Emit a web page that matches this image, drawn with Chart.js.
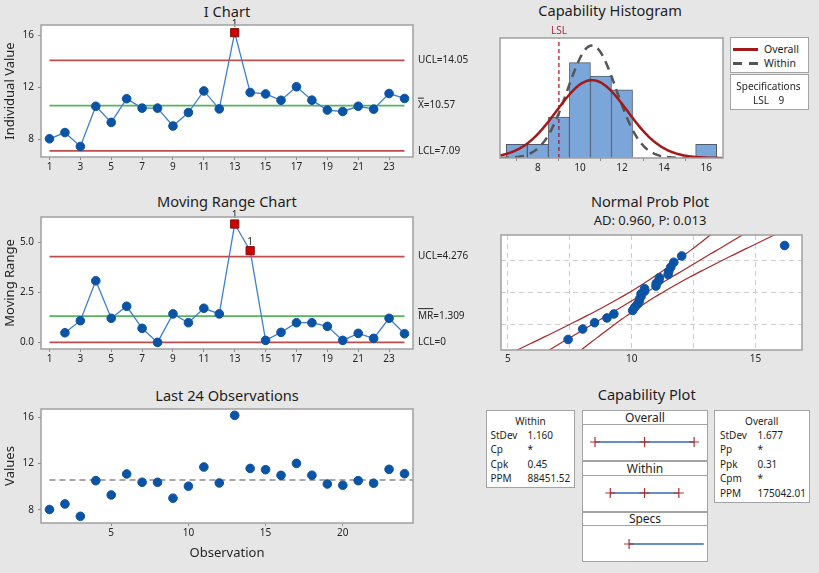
<!DOCTYPE html>
<html>
<head>
<meta charset="utf-8">
<title>Process Capability Sixpack</title>
<script src="https://cdn.jsdelivr.net/npm/chart.js@4.4.1/dist/chart.umd.min.js"></script>
<style>
  html, body { margin: 0; padding: 0; }
  body { width: 819px; height: 573px; background: #e6e6e6; position: relative; overflow: hidden;
         font-family: "Noto Sans", "DejaVu Sans", sans-serif; color: #1e1e1e; }
  canvas { position: absolute; }
  .t { position: absolute; white-space: nowrap; line-height: 1; transform: translate(-50%, -50%); }
  .tl { position: absolute; white-space: nowrap; line-height: 1; transform: translateY(-50%); }
  .ttl { font-size: 14.6px; }
  .box { position: absolute; background: #fff; border: 1.5px solid #a3a3a3; box-sizing: border-box; }
</style>
</head>
<body>
<script>
// ---- process data --------------------------------------------------------
const observations = [8.02, 8.50, 7.43, 10.52, 9.28, 11.10, 10.38, 10.38, 9.00, 10.04, 11.70, 10.32,
                      16.18, 11.58, 11.47, 10.98, 12.02, 10.99, 10.23, 10.12, 10.52, 10.30, 11.50, 11.12];
const movingRanges = [null, 0.48, 1.08, 3.07, 1.20, 1.80, 0.70, 0.00, 1.42, 0.98, 1.70, 1.42,
                      5.90, 4.57, 0.10, 0.50, 0.98, 0.98, 0.80, 0.10, 0.45, 0.20, 1.20, 0.43];

// control limits
const processMean = 10.57;
const iUCL = 14.05, iLCL = 7.09;
const mrMean = 1.309, mrUCL = 4.276, mrLCL = 0;

// capability figures
const lsl = 9;
const stdevWithin = 1.160, stdevOverall = 1.677;
const withinStats  = [['StDev', '1.160'], ['Cp', '*'], ['Cpk', '0.45'], ['PPM', '88451.52']];
const overallStats = [['StDev', '1.677'], ['Pp', '*'], ['Ppk', '0.31'], ['Cpm', '*'], ['PPM', '175042.01']];
const adText = 'AD: 0.960, P: 0.013';

// histogram bins (width 1)
const histBinCenters = [7, 8, 9, 10, 11, 12, 13, 14, 15, 16];
const histCounts     = [1, 1, 3, 7, 6, 5, 0, 0, 0, 1];

// ticks
const controlXTicks = [1, 3, 5, 7, 9, 11, 13, 15, 17, 19, 21, 23];
const iYTicks = [8, 12, 16];
const mrYTicks = [0, 2.5, 5];
const obsXTicks = [5, 10, 15, 20];
const obsYTicks = [8, 12, 16];
const histXTicks = [8, 10, 12, 14, 16];
const probXGrid = [5, 7.5, 10, 12.5, 15];
const probXLabels = [5, 10, 15];
const probGridPercents = [10, 50, 90];
const probRangePercents = [1, 99];

// ---- shared look -----------------------------------------------------------
const FONT = '"Noto Sans", "DejaVu Sans", sans-serif';
Chart.defaults.font.family = FONT;
Chart.defaults.font.size = 10;
Chart.defaults.color = '#262626';
Chart.defaults.animation = false;
Chart.defaults.responsive = false;
Chart.defaults.events = [];
Chart.defaults.plugins.legend.display = false;
Chart.defaults.plugins.tooltip.enabled = false;

const BLUE = '#0b53a5', LINK = '#3f7fcf', RED_LIMIT = '#c04d4d', GREEN = '#55b45c', FLAG = '#d40000';
const xMin = 0.45, xMax = 24.55;

function makeCanvas(left, top, w, h) {
  const c = document.createElement('canvas');
  c.width = w; c.height = h;
  Object.assign(c.style, { left: left + 'px', top: top + 'px', width: w + 'px', height: h + 'px' });
  document.body.appendChild(c);
  return c;
}
function addText(text, x, y, cls, style) {
  const d = document.createElement('div');
  d.className = cls; d.textContent = text;
  Object.assign(d.style, { left: x + 'px', top: y + 'px' }, style || {});
  document.body.appendChild(d);
  return d;
}
function addBox(x, y, w, h) {
  const d = document.createElement('div');
  d.className = 'box';
  Object.assign(d.style, { left: x + 'px', top: y + 'px', width: w + 'px', height: h + 'px' });
  document.body.appendChild(d);
  return d;
}

const fixWidth = w => s => { s.width = w; s.paddingLeft = s.paddingRight = s.paddingTop = s.paddingBottom = 0; };
const fixHeight = h => s => { s.height = h; s.paddingLeft = s.paddingRight = s.paddingTop = s.paddingBottom = 0; };
const setTicks = values => s => { s.ticks = values.map(v => ({ value: v })); };

// white plot area with a grey frame
const framePlugin = {
  id: 'frame',
  beforeDraw(chart) {
    const a = chart.chartArea, ctx = chart.ctx;
    ctx.save(); ctx.fillStyle = '#fff';
    ctx.fillRect(a.left, a.top, a.right - a.left, a.bottom - a.top); ctx.restore();
  },
  afterDraw(chart) {
    const a = chart.chartArea, ctx = chart.ctx;
    ctx.save(); ctx.strokeStyle = '#a0a0a0'; ctx.lineWidth = 1.5;
    ctx.strokeRect(a.left, a.top, a.right - a.left, a.bottom - a.top); ctx.restore();
  }
};

// labels on the right of the control limit lines
function limitLabels(items) {
  return {
    id: 'limitLabels',
    afterDraw(chart) {
      const ctx = chart.ctx, ys = chart.scales.y, a = chart.chartArea;
      ctx.save();
      ctx.font = '10px ' + FONT; ctx.fillStyle = '#262626'; ctx.strokeStyle = '#262626';
      ctx.textBaseline = 'middle'; ctx.textAlign = 'left';
      items.forEach(it => {
        const py = ys.getPixelForValue(it.value), px = a.right + 5;
        ctx.fillText(it.text, px, py);
        if (it.bar) {
          const w = ctx.measureText(it.bar).width;
          ctx.lineWidth = 1; ctx.beginPath();
          ctx.moveTo(px, py - 7.5); ctx.lineTo(px + w, py - 7.5); ctx.stroke();
        }
      });
      ctx.restore();
    }
  };
}

// "1" markers above points that fail test 1
function flagLabels(flags) {
  return {
    id: 'flagLabels',
    afterDatasetsDraw(chart) {
      const ctx = chart.ctx, meta = chart.getDatasetMeta(0);
      ctx.save(); ctx.font = '10px ' + FONT; ctx.fillStyle = '#262626';
      ctx.textAlign = 'center'; ctx.textBaseline = 'middle';
      flags.forEach((f, i) => { if (f) { const el = meta.data[i]; ctx.fillText('1', el.x, el.y - 9); } });
      ctx.restore();
    }
  };
}

function controlXAxis(height, title) {
  return {
    type: 'linear', min: xMin, max: xMax,
    afterBuildTicks: setTicks(controlXTicks),
    afterFit: fixHeight(height),
    grid: { drawOnChartArea: false, drawTicks: true, tickLength: 3, color: '#8c8c8c' },
    border: { display: false },
    ticks: { padding: 1, autoSkip: false, maxRotation: 0, callback: v => String(v) },
    title: title ? { display: true, text: title, font: { size: 13 }, color: '#262626', padding: { top: 0, bottom: 12 } } : { display: false }
  };
}
function valueYAxis(min, max, ticks, title, fmt) {
  return {
    type: 'linear', min, max,
    afterBuildTicks: setTicks(ticks),
    afterFit: fixWidth(41),
    grid: { drawOnChartArea: false, drawTicks: true, tickLength: 3, color: '#8c8c8c' },
    border: { display: false },
    ticks: { padding: 4, autoSkip: false, callback: fmt || (v => String(v)) },
    title: { display: true, text: title, font: { size: 13 }, color: '#262626', padding: { top: 2, bottom: 0 } }
  };
}
function limitLine(value, color) {
  return { data: [{ x: 1, y: value }, { x: observations.length, y: value }],
           borderColor: color, borderWidth: 1.8, pointRadius: 0, order: 5 };
}
function seriesDataset(values, flags) {
  return {
    data: values.map((v, i) => ({ x: i + 1, y: v })),
    borderColor: LINK, borderWidth: 1.3, tension: 0, order: 0,
    pointStyle: flags.map(f => f ? 'rect' : 'circle'),
    pointRadius: flags.map(f => f ? 5.8 : 4.3),
    pointBackgroundColor: flags.map(f => f ? FLAG : BLUE),
    pointBorderColor: flags.map(f => f ? '#7a1010' : BLUE),
    pointBorderWidth: 1
  };
}

// ---- I chart -----------------------------------------------------------------
addText('I Chart', 227, 10.5, 't ttl');
const iFlags = observations.map(v => v > iUCL || v < iLCL);
new Chart(makeCanvas(0, 0, 470, 185), {
  type: 'line',
  data: { datasets: [
    seriesDataset(observations, iFlags),
    limitLine(iUCL, RED_LIMIT), limitLine(processMean, GREEN), limitLine(iLCL, RED_LIMIT)
  ] },
  options: {
    layout: { padding: { left: 0, right: 57, top: 25, bottom: 0 } },
    scales: { x: controlXAxis(28), y: valueYAxis(6.62, 16.77, iYTicks, 'Individual Value') }
  },
  plugins: [framePlugin,
    limitLabels([{ value: iUCL, text: 'UCL=' + iUCL.toFixed(2) },
                 { value: processMean, text: 'X=' + processMean.toFixed(2), bar: 'X' },
                 { value: iLCL, text: 'LCL=' + iLCL.toFixed(2) }]),
    flagLabels(iFlags)]
});

// ---- Moving range chart --------------------------------------------------------
addText('Moving Range Chart', 227, 200.5, 't ttl');
const mrFlags = movingRanges.map(v => v !== null && v > mrUCL);
new Chart(makeCanvas(0, 185, 470, 185), {
  type: 'line',
  data: { datasets: [
    seriesDataset(movingRanges, mrFlags),
    limitLine(mrUCL, RED_LIMIT), limitLine(mrMean, GREEN), limitLine(mrLCL, RED_LIMIT)
  ] },
  options: {
    layout: { padding: { left: 0, right: 57, top: 32, bottom: 0 } },
    scales: { x: controlXAxis(21), y: valueYAxis(-0.33, 6.25, mrYTicks, 'Moving Range', v => v.toFixed(1)) }
  },
  plugins: [framePlugin,
    limitLabels([{ value: mrUCL, text: 'UCL=' + mrUCL.toFixed(3) },
                 { value: mrMean, text: 'MR=' + mrMean.toFixed(3), bar: 'MR' },
                 { value: mrLCL, text: 'LCL=' + mrLCL }]),
    flagLabels(mrFlags)]
});

// ---- Last 24 observations --------------------------------------------------------
addText('Last ' + observations.length + ' Observations', 227, 394.7, 't ttl');
new Chart(makeCanvas(0, 380, 470, 193), {
  type: 'scatter',
  data: { datasets: [
    { data: observations.map((v, i) => ({ x: i + 1, y: v })), pointRadius: 4.3,
      pointBackgroundColor: BLUE, pointBorderColor: BLUE, order: 0 },
    { type: 'line', data: [{ x: 1, y: processMean }, { x: xMax, y: processMean }],
      borderColor: '#8a8a8a', borderWidth: 1.5, borderDash: [6, 4], pointRadius: 0, order: 1 }
  ] },
  options: {
    layout: { padding: { left: 0, right: 57, top: 29, bottom: 0 } },
    scales: {
      x: Object.assign(controlXAxis(50, 'Observation'), { afterBuildTicks: setTicks(obsXTicks) }),
      y: valueYAxis(6.85, 16.73, obsYTicks, 'Values')
    }
  },
  plugins: [framePlugin]
});

// ---- Capability histogram ------------------------------------------------------------
addText('Capability Histogram', 610, 9.5, 't ttl');
const histXMin = 6.2, histXMax = 16.8, histYMax = 8.8;
const totalCount = histCounts.reduce((s, c) => s + c, 0);
const binWidth = histBinCenters[1] - histBinCenters[0];
function normalCurve(mu, sd, x0, x1) {
  const pts = [];
  for (let x = x0; x <= x1 + 1e-9; x += 0.05) {
    pts.push({ x, y: totalCount * binWidth * Math.exp(-0.5 * ((x - mu) / sd) ** 2) / (sd * Math.sqrt(2 * Math.PI)) });
  }
  return pts;
}
const lslLabel = {
  id: 'lslLabel',
  afterDraw(chart) {
    const ctx = chart.ctx, px = chart.scales.x.getPixelForValue(lsl);
    ctx.save(); ctx.font = '10px ' + FONT; ctx.fillStyle = '#a3303f';
    ctx.textAlign = 'center'; ctx.textBaseline = 'middle';
    ctx.fillText('LSL', px, chart.chartArea.top - 7); ctx.restore();
  }
};
new Chart(makeCanvas(470, 0, 349, 185), {
  type: 'bar',
  data: { datasets: [
    { type: 'line', data: normalCurve(processMean, stdevOverall, histXMin, histXMax),
      borderColor: '#a31818', borderWidth: 2.5, pointRadius: 0, order: 0 },
    { type: 'line', data: normalCurve(processMean, stdevWithin, histXMin, processMean + 4 * stdevWithin),
      borderColor: '#555555', borderWidth: 2.5, borderDash: [9, 6], pointRadius: 0, order: 1 },
    { type: 'line', data: [{ x: lsl, y: 0 }, { x: lsl, y: histYMax }],
      borderColor: '#c4001a', borderWidth: 1.2, borderDash: [4, 3], pointRadius: 0, order: 2 },
    { type: 'bar', data: histBinCenters.map((c, i) => ({ x: c, y: histCounts[i] })),
      backgroundColor: '#7ba6da', borderColor: '#4f5a6b',
      borderWidth: histCounts.map(c => c > 0 ? 1 : 0),
      barPercentage: 1, categoryPercentage: 1, order: 3 }
  ] },
  options: {
    layout: { padding: { left: 30, right: 96, top: 38, bottom: 0 } },
    scales: {
      x: { type: 'linear', min: histXMin, max: histXMax, offset: false,
           afterBuildTicks: setTicks(histXTicks), afterFit: fixHeight(27),
           grid: { drawOnChartArea: false, tickLength: 3, color: '#8c8c8c' }, border: { display: false },
           ticks: { padding: 1, autoSkip: false, maxRotation: 0 } },
      y: { display: false, min: 0, max: histYMax }
    }
  },
  plugins: [framePlugin, lslLabel]
});
// legend + specifications
addBox(730, 37, 79, 35.5);
addBox(730, 73.5, 79, 36);
(function () {
  const l1 = document.createElement('div');
  Object.assign(l1.style, { position: 'absolute', left: '733px', top: '48px', width: '25px', height: '2.5px', background: '#a31818' });
  document.body.appendChild(l1);
  [[733, 741.5], [748.5, 757.5]].forEach(([a, b]) => {
    const d = document.createElement('div');
    Object.assign(d.style, { position: 'absolute', left: a + 'px', top: '62px', width: (b - a) + 'px', height: '2.5px', background: '#555' });
    document.body.appendChild(d);
  });
})();
addText('Overall', 764, 49, 'tl', { fontSize: '10.5px' });
addText('Within', 764, 63, 'tl', { fontSize: '10.5px' });
addText('Specifications', 768.5, 85.5, 't', { fontSize: '10px' });
addText('LSL', 753, 99.5, 'tl', { fontSize: '10px' });
addText(String(lsl), 778.5, 99.5, 'tl', { fontSize: '10px' });

// ---- Normal probability plot -----------------------------------------------------------
addText('Normal Prob Plot', 650, 200.5, 't ttl');
addText(adText, 650, 219.7, 't', { fontSize: '13px' });
function normInv(p) {
  const a = [-3.969683028665376e+01, 2.209460984245205e+02, -2.759285104469687e+02, 1.383577518672690e+02, -3.066479806614716e+01, 2.506628277459239e+00];
  const b = [-5.447609879822406e+01, 1.615858368580409e+02, -1.556989798598866e+02, 6.680131188771972e+01, -1.328068155288572e+01];
  const c = [-7.784894002430293e-03, -3.223964580411365e-01, -2.400758277161838e+00, -2.549671031491807e+00, 4.374664141464968e+00, 2.938163982698783e+00];
  const d = [7.784695709041462e-03, 3.224671290700398e-01, 2.445134137142996e+00, 3.754408661907416e+00];
  const pl = 0.02425, ph = 1 - pl;
  let q, r;
  if (p < pl) { q = Math.sqrt(-2 * Math.log(p)); return (((((c[0]*q+c[1])*q+c[2])*q+c[3])*q+c[4])*q+c[5]) / ((((d[0]*q+d[1])*q+d[2])*q+d[3])*q+1); }
  if (p <= ph) { q = p - 0.5; r = q * q; return (((((a[0]*r+a[1])*r+a[2])*r+a[3])*r+a[4])*r+a[5])*q / (((((b[0]*r+b[1])*r+b[2])*r+b[3])*r+b[4])*r+1); }
  q = Math.sqrt(-2 * Math.log(1 - p));
  return -(((((c[0]*q+c[1])*q+c[2])*q+c[3])*q+c[4])*q+c[5]) / ((((d[0]*q+d[1])*q+d[2])*q+d[3])*q+1);
}
const n = observations.length;
const sortedObs = observations.slice().sort((p, q) => p - q);
// median-rank plotting positions on a normal-score axis
const probPoints = sortedObs.map((v, i) => ({ x: v, y: normInv((i + 1 - 0.3) / (n + 0.4)) }));
const zLo = normInv(probRangePercents[0] / 100), zHi = normInv(probRangePercents[1] / 100);
const fitLine = [], loBand = [], hiBand = [];
for (let z = zLo - 0.2; z <= zHi + 0.2 + 1e-9; z += 0.05) {
  const c = processMean + z * stdevOverall;
  const h = 1.96 * stdevOverall * Math.sqrt(1 / n + z * z / (2 * n));
  fitLine.push({ x: c, y: z }); loBand.push({ x: c - h, y: z }); hiBand.push({ x: c + h, y: z });
}
const probLine = data => ({ type: 'line', data, borderColor: '#a52a2a', borderWidth: 1.2, pointRadius: 0, order: 1 });
new Chart(makeCanvas(470, 185, 349, 185), {
  type: 'scatter',
  data: { datasets: [
    { data: probPoints, pointRadius: 4.3, pointBackgroundColor: BLUE, pointBorderColor: BLUE, order: 0 },
    probLine(fitLine), probLine(loBand), probLine(hiBand)
  ] },
  options: {
    layout: { padding: { left: 31, right: 17, top: 50, bottom: 0 } },
    scales: {
      x: { type: 'linear', min: 4.72, max: 16.88,
           afterBuildTicks: setTicks(probXGrid), afterFit: fixHeight(20),
           grid: { color: '#cdcdcd', drawTicks: false }, border: { display: false, dash: [5, 4] },
           ticks: { padding: 3, autoSkip: false, maxRotation: 0,
                    callback: v => probXLabels.includes(v) ? String(v) : '' } },
      y: { type: 'linear', min: zLo, max: zHi,
           afterBuildTicks: setTicks(probGridPercents.map(p => normInv(p / 100))), afterFit: fixWidth(0),
           grid: { color: '#cdcdcd', drawTicks: false }, border: { display: false, dash: [5, 4] },
           ticks: { display: false } }
    }
  },
  plugins: [framePlugin]
});

// ---- Capability plot -----------------------------------------------------------------
addText('Capability Plot', 646.7, 394, 't ttl');
// statistics tables
addBox(486, 410, 89, 78);
addText('Within', 530.5, 420.5, 't', { fontSize: '10px' });
withinStats.forEach(([k, v], i) => {
  addText(k, 490.5, 434.5 + i * 14.5, 'tl', { fontSize: '10px' });
  addText(v, 527.5, 434.5 + i * 14.5, 'tl', { fontSize: '10px' });
});
addBox(714, 410, 95.5, 92.5);
addText('Overall', 761.7, 420.5, 't', { fontSize: '10px' });
overallStats.forEach(([k, v], i) => {
  addText(k, 720, 434.5 + i * 14.5, 'tl', { fontSize: '10px' });
  addText(v, 757.5, 434.5 + i * 14.5, 'tl', { fontSize: '10px' });
});
// interval panels
const capXMin = 4.95, capXMax = 16.28;
const capPanels = [
  { name: 'Overall', top: 410, marks: [processMean - 3 * stdevOverall, processMean, processMean + 3 * stdevOverall] },
  { name: 'Within',  top: 461, marks: [processMean - 3 * stdevWithin, processMean, processMean + 3 * stdevWithin] },
  { name: 'Specs',   top: 511.5, marks: [lsl], open: true }
];
capPanels.forEach(p => {
  addBox(582, p.top, 126, 15);
  addText(p.name, 645, p.top + 7.5, 't', { fontSize: '12px' });
  addBox(582, p.top + 13.5, 126, 37);
  const pts = p.marks.map(x => ({ x, y: 0 }));
  if (p.open) pts.push({ x: capXMax + 0.3, y: 0 });
  new Chart(makeCanvas(583, p.top + 15, 124, 34), {
    type: 'line',
    data: { datasets: [{
      data: pts, borderColor: '#2f6db5', borderWidth: 1.5,
      pointStyle: 'cross', pointRadius: pts.map((_, i) => (p.open && i === pts.length - 1) ? 0 : 5),
      pointBorderColor: '#b03030', pointBorderWidth: 1.2, clip: false
    }] },
    options: {
      layout: { padding: 0 },
      scales: { x: { type: 'linear', display: false, min: capXMin, max: capXMax },
                y: { display: false, min: -1, max: 1 } }
    }
  });
});
</script>
</body>
</html>
